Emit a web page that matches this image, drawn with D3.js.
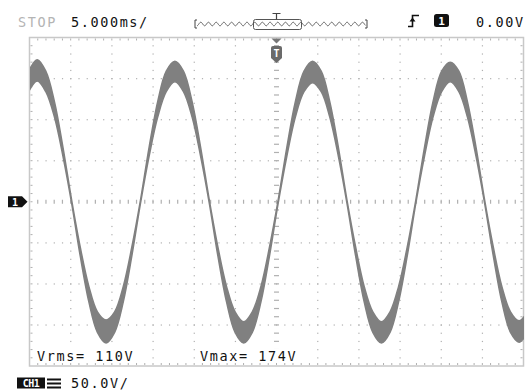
<!DOCTYPE html>
<html><head><meta charset="utf-8">
<script src="https://cdn.jsdelivr.net/npm/d3@7"></script>
<style>html,body{margin:0;padding:0;background:#fff;}svg{display:block;}</style>
</head><body>
<script>
const timeMs = [-30.11,-29.06,-28.02,-26.97,-25.93,-24.88,-23.84,-22.79,-21.75,-20.70,-19.66,-18.61,-17.57,-16.52,-15.48,-14.43,-13.39,-12.34,-11.30,-10.25,-9.21,-8.16,-7.12,-6.07,-5.03,-3.98,-2.94,-1.89,-0.85,0.20,1.25,2.29,3.34,4.38,5.43,6.47,7.52,8.56,9.61,10.65,11.70,12.74,13.79,14.83,15.88,16.92,17.97,19.01,20.06,21.10,22.15,23.19,24.24,25.28,26.33,27.37,28.42,29.46,30.51];
const vHigh = [159,173,159,122,66,2,-55,-103,-134,-144,-134,-103,-55,2,66,122,159,171,159,122,66,2,-55,-103,-134,-146,-134,-103,-55,2,66,122,159,171,159,122,66,2,-55,-103,-134,-146,-134,-103,-55,2,66,122,159,170,159,122,66,2,-55,-103,-134,-145,-134];
const vLow  = [134,147,134,103,55,-2,-66,-122,-159,-172,-159,-122,-66,-2,55,103,134,146,134,103,55,-2,-66,-122,-159,-172,-159,-122,-66,-2,55,103,134,145,134,103,55,-2,-66,-122,-159,-172,-159,-122,-66,-2,55,103,134,146,134,103,55,-2,-66,-122,-159,-171,-159];
const timeDomain = [-30, 30];      // 5 ms/div x 12 div
const voltDomain = [-200, 200];    // 50 V/div x 8 div
const timeMajor = [-25,-20,-15,-10,-5,5,10,15,20,25];
const voltMajor = [-150,-100,-50,50,100,150];
const labels = {stop:"STOP", timebase:"5.000ms/", trigLevel:"0.00V", vrms:"Vrms= 110V", vmax:"Vmax= 174V", scale:"50.0V/"};

const W = 528, H = 390;
const svg = d3.select("body").append("svg").attr("width", W).attr("height", H);
const x = d3.scaleLinear().domain(timeDomain).range([29.5, 523.5]);
const y = d3.scaleLinear().domain(voltDomain).range([366, 37.5]);

const gridCol = "#b0b0b0";
// border
svg.append("rect").attr("x", x(-30)).attr("y", y(200)).attr("width", x(30)-x(-30)).attr("height", y(-200)-y(200))
  .attr("fill","none").attr("stroke","#c8c8c8").attr("stroke-width",1.5);

const minorT = d3.range(-29, 30, 1);
const minorV = d3.range(-190, 200, 10);
const g = svg.append("g");
// border ticks
minorT.forEach(t => {
  g.append("rect").attr("x", x(t)-0.5).attr("y", y(200)+1).attr("width",1).attr("height",2).attr("fill",gridCol);
  g.append("rect").attr("x", x(t)-0.5).attr("y", y(-200)-3).attr("width",1).attr("height",2).attr("fill",gridCol);
});
minorV.forEach(v => {
  g.append("rect").attr("x", x(-30)+1).attr("y", y(v)-0.5).attr("width",2).attr("height",1).attr("fill",gridCol);
  g.append("rect").attr("x", x(30)-3).attr("y", y(v)-0.5).attr("width",2).attr("height",1).attr("fill",gridCol);
});
// dotted major lines
timeMajor.forEach(t => minorV.forEach(v => {
  g.append("rect").attr("x", x(t)-0.5).attr("y", y(v)-0.5).attr("width",1.2).attr("height",1.2).attr("fill",gridCol);
}));
voltMajor.forEach(v => minorT.forEach(t => {
  g.append("rect").attr("x", x(t)-0.5).attr("y", y(v)-0.5).attr("width",1.2).attr("height",1.2).attr("fill",gridCol);
}));
// center lines
minorT.forEach(t => g.append("rect").attr("x", x(t)-0.6).attr("y", y(0)-2).attr("width",1.2).attr("height",4).attr("fill",gridCol));
minorV.forEach(v => g.append("rect").attr("x", x(0)-2.5).attr("y", y(v)-0.6).attr("width",5).attr("height",1.2).attr("fill",gridCol));

// trace
svg.append("clipPath").attr("id","scr").append("rect")
  .attr("x", x(-30)+0.5).attr("y", y(200)).attr("width", x(30)-x(-30)).attr("height", y(-200)-y(200));
const pts = timeMs.map((t,i)=>({t, hi:vHigh[i], lo:vLow[i]}));
const area = d3.area().x(d=>x(d.t)).y0(d=>y(d.lo)).y1(d=>y(d.hi)).curve(d3.curveCatmullRom.alpha(0.5));
svg.append("path").attr("clip-path","url(#scr)").attr("d", area(pts))
  .attr("fill","#808080").attr("stroke","#808080").attr("stroke-width",1.5).attr("stroke-linejoin","round");

const font = "'DejaVu Sans Mono', 'Liberation Mono', monospace";
function txt(s, px, py, col) {
  return svg.append("text").attr("x",px).attr("y",py).text(s).attr("fill",col||"#111")
    .style("font-family",font).style("font-size","13.5px").style("letter-spacing","1.6px");
}
// top texts
txt(labels.stop, 18, 27, "#b4b4b4");
txt(labels.timebase, 71, 27, "#111");
txt(labels.trigLevel, 476, 27, "#111");
// bottom texts
svg.append("rect").attr("x",34).attr("y",349).attr("width",106).attr("height",14).attr("fill","#fff");
svg.append("rect").attr("x",197).attr("y",349).attr("width",103).attr("height",14).attr("fill","#fff");
txt(labels.vrms, 37, 361, "#111");
txt(labels.vmax, 200, 361, "#111");
txt(labels.scale, 71, 388, "#111");

// CH1 badge
svg.append("rect").attr("x",17).attr("y",377.5).attr("width",28).attr("height",11).attr("fill","#111");
svg.append("text").attr("x",31).attr("y",387).attr("text-anchor","middle").text("CH1").attr("fill","#fff")
  .style("font-family",font).style("font-size","10px").style("font-weight","bold").style("letter-spacing","-0.5px");
[378.5, 382.5, 386.5].forEach(yy => svg.append("rect").attr("x",47).attr("y",yy).attr("width",14).attr("height",2).attr("fill","#111"));

// channel 1 ground marker
svg.append("path").attr("d", `M8,${y(0)-5.5}H22L27.5,${y(0)}L22,${y(0)+5.5}H8Z`).attr("fill","#111");
svg.append("text").attr("x",15).attr("y",y(0)+4).attr("text-anchor","middle").text("1").attr("fill","#fff")
  .style("font-family",font).style("font-size","10px").style("font-weight","bold");

// trigger position marker
const tx = x(0);
svg.append("path").attr("d", `M${tx-5},38.5H${tx+5}L${tx},43.5Z`).attr("fill","#777");
svg.append("path").attr("d", `M${tx-5.5},48Q${tx-5.5},46 ${tx-3.5},46H${tx+3.5}Q${tx+5.5},46 ${tx+5.5},48V58L${tx},63L${tx-5.5},58Z`).attr("fill","#6a6a6a");
svg.append("text").attr("x",tx).attr("y",57).attr("text-anchor","middle").text("T").attr("fill","#fff")
  .style("font-family",font).style("font-size","10px").style("font-weight","bold");

// memory bar at top
const bx0 = 195, bx1 = 367, by = 24;
svg.append("path").attr("d", `M${bx0+2},20H${bx0}V28H${bx0+2}M${bx1-2},20H${bx1}V28H${bx1-2}`).attr("fill","none").attr("stroke","#444").attr("stroke-width",1);
const wav = d3.range(bx0+2, bx1-1, 0.5).map(px => [px, by + 1.8*Math.sin((px-bx0)/7.7*2*Math.PI)]);
svg.append("path").attr("d", d3.line()(wav)).attr("fill","none").attr("stroke","#555").attr("stroke-width",0.9);
svg.append("rect").attr("x",253.5).attr("y",19.5).attr("width",48).attr("height",10).attr("rx",2).attr("fill","none").attr("stroke","#555").attr("stroke-width",1);
svg.append("path").attr("d", `M${tx-4},13.5H${tx+4}M${tx},13.5V19.5`).attr("stroke","#444").attr("stroke-width",1.2);

// trigger edge symbol
svg.append("path").attr("d","M408,26.5H412.5V15.5H419").attr("fill","none").attr("stroke","#111").attr("stroke-width",1.6);
svg.append("path").attr("d","M409.5,21.5L412.5,17.5L415.5,21.5Z").attr("fill","#111");
// channel 1 source badge
svg.append("rect").attr("x",434).attr("y",14).attr("width",15).attr("height",13).attr("rx",2.5).attr("fill","#111");
svg.append("text").attr("x",441.5).attr("y",25).attr("text-anchor","middle").text("1").attr("fill","#fff")
  .style("font-family",font).style("font-size","11px").style("font-weight","bold");
</script>
</body></html>
